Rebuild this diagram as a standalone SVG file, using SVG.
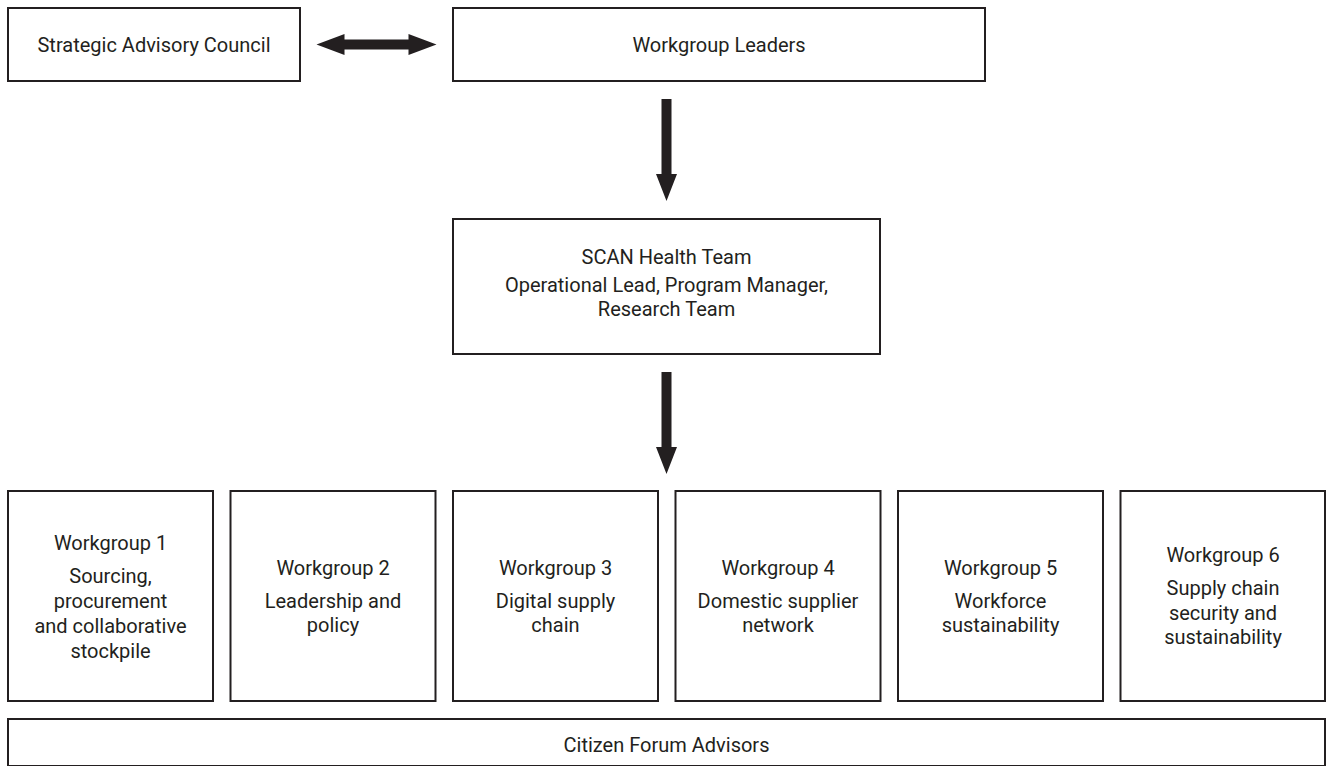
<svg xmlns="http://www.w3.org/2000/svg" width="1326" height="766" viewBox="0 0 1326 766">
  <style>
    .box { fill: #ffffff; stroke: #231f20; stroke-width: 2; }
    .t { font-family: Roboto, "Liberation Sans", sans-serif; font-size: 20px; fill: #231f20; text-anchor: middle; }
    .arrow { fill: #231f20; stroke: none; }
  </style>
  <rect x="0" y="0" width="1326" height="766" fill="#ffffff"/>

  <g id="strategic-advisory-council">
    <rect class="box" x="8" y="8" width="292" height="73"/>
    <text class="t" x="154" y="51.5">Strategic Advisory Council</text>
  </g>

  <g id="workgroup-leaders">
    <rect class="box" x="453" y="8" width="532" height="73"/>
    <text class="t" x="719" y="51.5">Workgroup Leaders</text>
  </g>

  <g id="scan-health-team">
    <rect class="box" x="453" y="219" width="427" height="135"/>
    <text class="t" x="666.5" y="264">SCAN Health Team</text>
    <text class="t" x="666.5" y="292">Operational Lead, Program Manager,</text>
    <text class="t" x="666.5" y="316">Research Team</text>
  </g>

  <g id="workgroup-1">
    <rect class="box" x="8" y="491" width="205" height="210"/>
    <text class="t" x="110.5" y="549.5">Workgroup 1</text>
    <text class="t" x="110.5" y="583">Sourcing,</text>
    <text class="t" x="110.5" y="607.5">procurement</text>
    <text class="t" x="110.5" y="632.5">and collaborative</text>
    <text class="t" x="110.5" y="657.5">stockpile</text>
  </g>

  <g id="workgroup-2">
    <rect class="box" x="230.5" y="491" width="205" height="210"/>
    <text class="t" x="333" y="574.5">Workgroup 2</text>
    <text class="t" x="333" y="607.5">Leadership and</text>
    <text class="t" x="333" y="632">policy</text>
  </g>

  <g id="workgroup-3">
    <rect class="box" x="453" y="491" width="205" height="210"/>
    <text class="t" x="555.5" y="574.5">Workgroup 3</text>
    <text class="t" x="555.5" y="607.5">Digital supply</text>
    <text class="t" x="555.5" y="632">chain</text>
  </g>

  <g id="workgroup-4">
    <rect class="box" x="675.5" y="491" width="205" height="210"/>
    <text class="t" x="778" y="574.5">Workgroup 4</text>
    <text class="t" x="778" y="607.5">Domestic supplier</text>
    <text class="t" x="778" y="632">network</text>
  </g>

  <g id="workgroup-5">
    <rect class="box" x="898" y="491" width="205" height="210"/>
    <text class="t" x="1000.5" y="574.5">Workgroup 5</text>
    <text class="t" x="1000.5" y="607.5">Workforce</text>
    <text class="t" x="1000.5" y="632">sustainability</text>
  </g>

  <g id="workgroup-6">
    <rect class="box" x="1120.5" y="491" width="204.5" height="210"/>
    <text class="t" x="1223" y="562">Workgroup 6</text>
    <text class="t" x="1223" y="595">Supply chain</text>
    <text class="t" x="1223" y="619.5">security and</text>
    <text class="t" x="1223" y="644">sustainability</text>
  </g>

  <g id="citizen-forum-advisors">
    <rect class="box" x="8" y="719" width="1317" height="47"/>
    <text class="t" x="666.5" y="752">Citizen Forum Advisors</text>
  </g>

  <g id="connectors">
    <!-- double arrow between Strategic Advisory Council and Workgroup Leaders -->
    <polygon class="arrow" points="316.5,44.5 344.5,34 344.5,39.5 408.5,39.5 408.5,34 436.5,44.5 408.5,55 408.5,49.5 344.5,49.5 344.5,55"/>
    <!-- Workgroup Leaders to SCAN Health Team -->
    <polygon class="arrow" points="661.5,99 671.5,99 671.5,174 677,174 666.5,201 656,174 661.5,174"/>
    <!-- SCAN Health Team to Workgroups -->
    <polygon class="arrow" points="661.5,372 671.5,372 671.5,447 677,447 666.5,474 656,447 661.5,447"/>
  </g>
</svg>
